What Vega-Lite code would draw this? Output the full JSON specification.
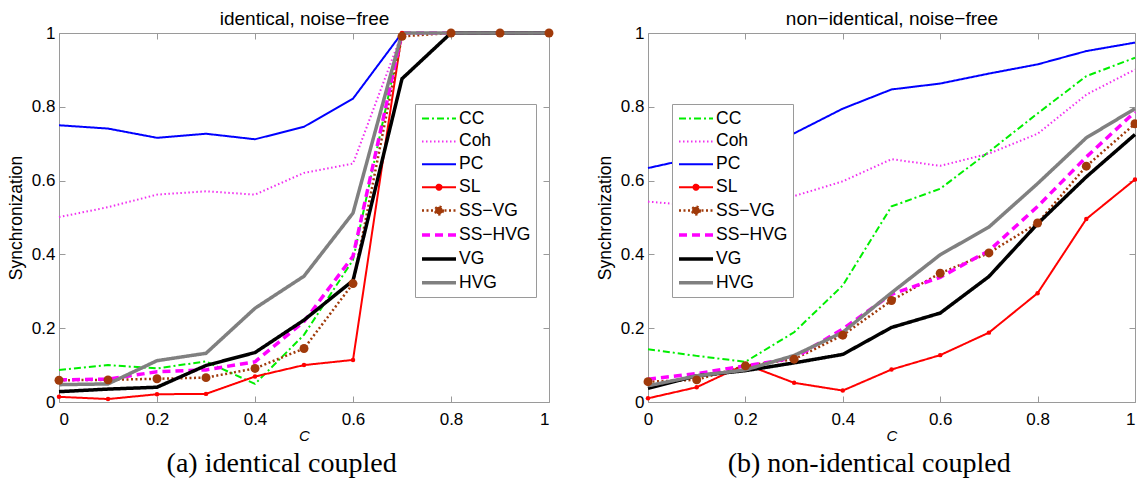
{
  "$schema": "https://vega.github.io/schema/vega-lite/v6.json",
  "padding": {"left": 6, "top": 9, "right": 0, "bottom": 0},
  "spacing": 38,
  "background": "white",
  "datasets": {
    "a": [
      {"c":0,"s":0.087,"m":"CC"},{"c":0.1,"s":0.100,"m":"CC"},{"c":0.2,"s":0.091,"m":"CC"},{"c":0.3,"s":0.110,"m":"CC"},{"c":0.4,"s":0.049,"m":"CC"},{"c":0.5,"s":0.182,"m":"CC"},{"c":0.6,"s":0.385,"m":"CC"},{"c":0.7,"s":1,"m":"CC"},{"c":0.8,"s":1,"m":"CC"},{"c":0.9,"s":1,"m":"CC"},{"c":1,"s":1,"m":"CC"},
      {"c":0,"s":0.501,"m":"Coh"},{"c":0.1,"s":0.528,"m":"Coh"},{"c":0.2,"s":0.562,"m":"Coh"},{"c":0.3,"s":0.571,"m":"Coh"},{"c":0.4,"s":0.562,"m":"Coh"},{"c":0.5,"s":0.621,"m":"Coh"},{"c":0.6,"s":0.646,"m":"Coh"},{"c":0.7,"s":1,"m":"Coh"},{"c":0.8,"s":1,"m":"Coh"},{"c":0.9,"s":1,"m":"Coh"},{"c":1,"s":1,"m":"Coh"},
      {"c":0,"s":0.750,"m":"PC"},{"c":0.1,"s":0.741,"m":"PC"},{"c":0.2,"s":0.716,"m":"PC"},{"c":0.3,"s":0.727,"m":"PC"},{"c":0.4,"s":0.712,"m":"PC"},{"c":0.5,"s":0.746,"m":"PC"},{"c":0.6,"s":0.822,"m":"PC"},{"c":0.7,"s":1,"m":"PC"},{"c":0.8,"s":1,"m":"PC"},{"c":0.9,"s":1,"m":"PC"},{"c":1,"s":1,"m":"PC"},
      {"c":0,"s":0.014,"m":"SL"},{"c":0.1,"s":0.008,"m":"SL"},{"c":0.2,"s":0.021,"m":"SL"},{"c":0.3,"s":0.022,"m":"SL"},{"c":0.4,"s":0.069,"m":"SL"},{"c":0.5,"s":0.100,"m":"SL"},{"c":0.6,"s":0.114,"m":"SL"},{"c":0.7,"s":1,"m":"SL"},{"c":0.8,"s":1,"m":"SL"},{"c":0.9,"s":1,"m":"SL"},{"c":1,"s":1,"m":"SL"},
      {"c":0,"s":0.059,"m":"SS−VG"},{"c":0.1,"s":0.060,"m":"SS−VG"},{"c":0.2,"s":0.063,"m":"SS−VG"},{"c":0.3,"s":0.066,"m":"SS−VG"},{"c":0.4,"s":0.091,"m":"SS−VG"},{"c":0.5,"s":0.145,"m":"SS−VG"},{"c":0.6,"s":0.321,"m":"SS−VG"},{"c":0.7,"s":0.991,"m":"SS−VG"},{"c":0.8,"s":1,"m":"SS−VG"},{"c":0.9,"s":1,"m":"SS−VG"},{"c":1,"s":1,"m":"SS−VG"},
      {"c":0,"s":0.060,"m":"SS−HVG"},{"c":0.1,"s":0.062,"m":"SS−HVG"},{"c":0.2,"s":0.082,"m":"SS−HVG"},{"c":0.3,"s":0.087,"m":"SS−HVG"},{"c":0.4,"s":0.109,"m":"SS−HVG"},{"c":0.5,"s":0.218,"m":"SS−HVG"},{"c":0.6,"s":0.395,"m":"SS−HVG"},{"c":0.7,"s":1,"m":"SS−HVG"},{"c":0.8,"s":1,"m":"SS−HVG"},{"c":0.9,"s":1,"m":"SS−HVG"},{"c":1,"s":1,"m":"SS−HVG"},
      {"c":0,"s":0.028,"m":"VG"},{"c":0.1,"s":0.035,"m":"VG"},{"c":0.2,"s":0.040,"m":"VG"},{"c":0.3,"s":0.099,"m":"VG"},{"c":0.4,"s":0.134,"m":"VG"},{"c":0.5,"s":0.222,"m":"VG"},{"c":0.6,"s":0.329,"m":"VG"},{"c":0.7,"s":0.876,"m":"VG"},{"c":0.8,"s":1,"m":"VG"},{"c":0.9,"s":1,"m":"VG"},{"c":1,"s":1,"m":"VG"},
      {"c":0,"s":0.047,"m":"HVG"},{"c":0.1,"s":0.049,"m":"HVG"},{"c":0.2,"s":0.112,"m":"HVG"},{"c":0.3,"s":0.132,"m":"HVG"},{"c":0.4,"s":0.254,"m":"HVG"},{"c":0.5,"s":0.341,"m":"HVG"},{"c":0.6,"s":0.512,"m":"HVG"},{"c":0.7,"s":1,"m":"HVG"},{"c":0.8,"s":1,"m":"HVG"},{"c":0.9,"s":1,"m":"HVG"},{"c":1,"s":1,"m":"HVG"}
    ],
    "b": [
      {"c":0,"s":0.143,"m":"CC"},{"c":0.1,"s":0.125,"m":"CC"},{"c":0.2,"s":0.109,"m":"CC"},{"c":0.3,"s":0.189,"m":"CC"},{"c":0.4,"s":0.316,"m":"CC"},{"c":0.5,"s":0.530,"m":"CC"},{"c":0.6,"s":0.578,"m":"CC"},{"c":0.7,"s":0.678,"m":"CC"},{"c":0.8,"s":0.782,"m":"CC"},{"c":0.9,"s":0.883,"m":"CC"},{"c":1,"s":0.933,"m":"CC"},
      {"c":0,"s":0.543,"m":"Coh"},{"c":0.1,"s":0.532,"m":"Coh"},{"c":0.2,"s":0.545,"m":"Coh"},{"c":0.3,"s":0.558,"m":"Coh"},{"c":0.4,"s":0.598,"m":"Coh"},{"c":0.5,"s":0.658,"m":"Coh"},{"c":0.6,"s":0.640,"m":"Coh"},{"c":0.7,"s":0.673,"m":"Coh"},{"c":0.8,"s":0.727,"m":"Coh"},{"c":0.9,"s":0.833,"m":"Coh"},{"c":1,"s":0.901,"m":"Coh"},
      {"c":0,"s":0.634,"m":"PC"},{"c":0.1,"s":0.663,"m":"PC"},{"c":0.2,"s":0.695,"m":"PC"},{"c":0.3,"s":0.728,"m":"PC"},{"c":0.4,"s":0.795,"m":"PC"},{"c":0.5,"s":0.847,"m":"PC"},{"c":0.6,"s":0.863,"m":"PC"},{"c":0.7,"s":0.890,"m":"PC"},{"c":0.8,"s":0.915,"m":"PC"},{"c":0.9,"s":0.951,"m":"PC"},{"c":1,"s":0.974,"m":"PC"},
      {"c":0,"s":0.010,"m":"SL"},{"c":0.1,"s":0.040,"m":"SL"},{"c":0.2,"s":0.102,"m":"SL"},{"c":0.3,"s":0.052,"m":"SL"},{"c":0.4,"s":0.031,"m":"SL"},{"c":0.5,"s":0.088,"m":"SL"},{"c":0.6,"s":0.127,"m":"SL"},{"c":0.7,"s":0.188,"m":"SL"},{"c":0.8,"s":0.295,"m":"SL"},{"c":0.9,"s":0.496,"m":"SL"},{"c":1,"s":0.603,"m":"SL"},
      {"c":0,"s":0.055,"m":"SS−VG"},{"c":0.1,"s":0.060,"m":"SS−VG"},{"c":0.2,"s":0.098,"m":"SS−VG"},{"c":0.3,"s":0.116,"m":"SS−VG"},{"c":0.4,"s":0.181,"m":"SS−VG"},{"c":0.5,"s":0.275,"m":"SS−VG"},{"c":0.6,"s":0.349,"m":"SS−VG"},{"c":0.7,"s":0.404,"m":"SS−VG"},{"c":0.8,"s":0.485,"m":"SS−VG"},{"c":0.9,"s":0.639,"m":"SS−VG"},{"c":1,"s":0.754,"m":"SS−VG"},
      {"c":0,"s":0.062,"m":"SS−HVG"},{"c":0.1,"s":0.077,"m":"SS−HVG"},{"c":0.2,"s":0.098,"m":"SS−HVG"},{"c":0.3,"s":0.119,"m":"SS−HVG"},{"c":0.4,"s":0.198,"m":"SS−HVG"},{"c":0.5,"s":0.292,"m":"SS−HVG"},{"c":0.6,"s":0.338,"m":"SS−HVG"},{"c":0.7,"s":0.410,"m":"SS−HVG"},{"c":0.8,"s":0.530,"m":"SS−HVG"},{"c":0.9,"s":0.664,"m":"SS−HVG"},{"c":1,"s":0.786,"m":"SS−HVG"},
      {"c":0,"s":0.037,"m":"VG"},{"c":0.1,"s":0.071,"m":"VG"},{"c":0.2,"s":0.085,"m":"VG"},{"c":0.3,"s":0.106,"m":"VG"},{"c":0.4,"s":0.129,"m":"VG"},{"c":0.5,"s":0.202,"m":"VG"},{"c":0.6,"s":0.241,"m":"VG"},{"c":0.7,"s":0.340,"m":"VG"},{"c":0.8,"s":0.483,"m":"VG"},{"c":0.9,"s":0.610,"m":"VG"},{"c":1,"s":0.725,"m":"VG"},
      {"c":0,"s":0.044,"m":"HVG"},{"c":0.1,"s":0.071,"m":"HVG"},{"c":0.2,"s":0.087,"m":"HVG"},{"c":0.3,"s":0.126,"m":"HVG"},{"c":0.4,"s":0.189,"m":"HVG"},{"c":0.5,"s":0.296,"m":"HVG"},{"c":0.6,"s":0.399,"m":"HVG"},{"c":0.7,"s":0.474,"m":"HVG"},{"c":0.8,"s":0.592,"m":"HVG"},{"c":0.9,"s":0.716,"m":"HVG"},{"c":1,"s":0.795,"m":"HVG"}
    ]
  },
  "resolve": {
    "scale": {"color": "independent", "strokeDash": "independent", "strokeWidth": "independent", "size": "independent"},
    "legend": {"color": "independent", "strokeDash": "independent", "strokeWidth": "independent", "size": "independent"}
  },
  "hconcat": [
    {
      "width": 490,
      "height": 369,
      "data": {"name": "a"},
      "title": {
        "text": "(a) identical coupled",
        "orient": "bottom", "anchor": "middle", "frame": "bounds", "offset": 7,
        "font": "Liberation Serif", "fontSize": 28, "fontWeight": "normal", "color": "#000"
      },
      "layer": [
        {
          "mark": {"type": "line"},
          "encoding": {
            "x": {"field": "c", "type": "quantitative", "scale": {"domain": [0, 1], "nice": false},
                  "axis": {"orient": "bottom", "values": [0, 0.2, 0.4, 0.6, 0.8, 1], "format": "~g", "labelPadding": 15, "title": "C", "titleFontStyle": "italic", "titleFontSize": 15, "titlePadding": 1}},
            "y": {"field": "s", "type": "quantitative", "scale": {"domain": [0, 1], "nice": false},
                  "axis": {"orient": "left", "values": [0, 0.2, 0.4, 0.6, 0.8, 1], "format": "~g", "labelPadding": 10, "title": "Synchronization", "titleFontSize": 17.5, "titlePadding": 6}},
            "color": {"field": "m", "type": "nominal",
                      "scale": {"domain": ["CC", "Coh", "PC", "SL", "SS−VG", "SS−HVG", "VG", "HVG"], "range": ["#00ee00", "#f030f0", "#0000ff", "#ff0000", "#a03a0a", "#ff00ff", "#000000", "#808080"]},
                      "legend": {"orient": "none", "legendX": 356, "legendY": 71, "title": null,
                                 "encode": {"symbols": {"update": {
                                   "shape": {"signal": "datum.value === 'SL' ? 'M-1,0H3M1.3,0A0.3,0.3,0,1,1,0.7,0A0.3,0.3,0,1,1,1.3,0Z' : (datum.value === 'SS−VG' ? 'M-1,0H3M1.45,0A0.45,0.45,0,1,1,0.55,0A0.45,0.45,0,1,1,1.45,0Z' : 'M-1,0H3')"},
                                   "fill": {"signal": "datum.value === 'SL' ? '#ff0000' : (datum.value === 'SS−VG' ? '#a03a0a' : 'transparent')"}}}}}},
            "strokeDash": {"field": "m", "type": "nominal",
                           "scale": {"domain": ["CC", "Coh", "PC", "SL", "SS−VG", "SS−HVG", "VG", "HVG"], "range": [[7, 3, 2, 3], [1.5, 2.5], [1, 0], [1, 0], [2, 2.5], [8, 5], [1, 0], [1, 0]]},
                           "legend": {"orient": "none", "legendX": 356, "legendY": 71, "title": null}},
            "strokeWidth": {"field": "m", "type": "nominal",
                            "scale": {"type": "ordinal", "domain": ["CC", "Coh", "PC", "SL", "SS−VG", "SS−HVG", "VG", "HVG"], "range": [2, 2, 2, 2, 2.5, 3.5, 3.5, 3.5]},
                            "legend": {"orient": "none", "legendX": 356, "legendY": 71, "title": null}}
          }
        },
        {
          "transform": [{"filter": "datum.m === 'SL' || datum.m === 'SS−VG'"}],
          "mark": {"type": "point", "filled": true, "opacity": 1},
          "encoding": {
            "x": {"field": "c", "type": "quantitative", "scale": {"domain": [0, 1], "nice": false}, "axis": null},
            "y": {"field": "s", "type": "quantitative", "scale": {"domain": [0, 1], "nice": false}, "axis": null},
            "color": {"field": "m", "type": "nominal", "scale": {"domain": ["CC", "Coh", "PC", "SL", "SS−VG", "SS−HVG", "VG", "HVG"], "range": ["#00ee00", "#f030f0", "#0000ff", "#ff0000", "#a03a0a", "#ff00ff", "#000000", "#808080"]}, "legend": null},
            "size": {"field": "m", "type": "nominal", "scale": {"type": "ordinal", "domain": ["SL", "SS−VG"], "range": [20, 80]}, "legend": null}
          }
        },
        {
          "mark": {"type": "line", "opacity": 0},
          "encoding": {
            "x": {"field": "c", "type": "quantitative", "scale": {"domain": [0, 1], "nice": false},
                  "axis": {"orient": "top", "values": [0, 0.2, 0.4, 0.6, 0.8, 1], "labels": false, "title": "identical, noise−free", "titleFontSize": 19, "titlePadding": 4}},
            "y": {"field": "s", "type": "quantitative", "scale": {"domain": [0, 1], "nice": false},
                  "axis": {"orient": "right", "values": [0, 0.2, 0.4, 0.6, 0.8, 1], "labels": false, "title": null}}
          }
        }
      ],
      "resolve": {"axis": {"x": "independent", "y": "independent"}}
    },
    {
      "width": 487,
      "height": 369,
      "data": {"name": "b"},
      "title": {
        "text": "(b) non-identical coupled",
        "orient": "bottom", "anchor": "middle", "frame": "bounds", "offset": 7,
        "font": "Liberation Serif", "fontSize": 28, "fontWeight": "normal", "color": "#000"
      },
      "layer": [
        {
          "mark": {"type": "line"},
          "encoding": {
            "x": {"field": "c", "type": "quantitative", "scale": {"domain": [0, 1], "nice": false},
                  "axis": {"orient": "bottom", "values": [0, 0.2, 0.4, 0.6, 0.8, 1], "format": "~g", "labelPadding": 15, "title": "C", "titleFontStyle": "italic", "titleFontSize": 15, "titlePadding": 1,
                           "labelAlign": {"condition": {"test": "datum.value === 1", "value": "right"}, "value": "center"}}},
            "y": {"field": "s", "type": "quantitative", "scale": {"domain": [0, 1], "nice": false},
                  "axis": {"orient": "left", "values": [0, 0.2, 0.4, 0.6, 0.8, 1], "format": "~g", "labelPadding": 10, "title": "Synchronization", "titleFontSize": 17.5, "titlePadding": 6}},
            "color": {"field": "m", "type": "nominal",
                      "scale": {"domain": ["CC", "Coh", "PC", "SL", "SS−VG", "SS−HVG", "VG", "HVG"], "range": ["#00ee00", "#f030f0", "#0000ff", "#ff0000", "#a03a0a", "#ff00ff", "#000000", "#808080"]},
                      "legend": {"orient": "none", "legendX": 24, "legendY": 71, "title": null,
                                 "encode": {"symbols": {"update": {
                                   "shape": {"signal": "datum.value === 'SL' ? 'M-1,0H3M1.3,0A0.3,0.3,0,1,1,0.7,0A0.3,0.3,0,1,1,1.3,0Z' : (datum.value === 'SS−VG' ? 'M-1,0H3M1.45,0A0.45,0.45,0,1,1,0.55,0A0.45,0.45,0,1,1,1.45,0Z' : 'M-1,0H3')"},
                                   "fill": {"signal": "datum.value === 'SL' ? '#ff0000' : (datum.value === 'SS−VG' ? '#a03a0a' : 'transparent')"}}}}}},
            "strokeDash": {"field": "m", "type": "nominal",
                           "scale": {"domain": ["CC", "Coh", "PC", "SL", "SS−VG", "SS−HVG", "VG", "HVG"], "range": [[7, 3, 2, 3], [1.5, 2.5], [1, 0], [1, 0], [2, 2.5], [8, 5], [1, 0], [1, 0]]},
                           "legend": {"orient": "none", "legendX": 24, "legendY": 71, "title": null}},
            "strokeWidth": {"field": "m", "type": "nominal",
                            "scale": {"type": "ordinal", "domain": ["CC", "Coh", "PC", "SL", "SS−VG", "SS−HVG", "VG", "HVG"], "range": [2, 2, 2, 2, 2.5, 3.5, 3.5, 3.5]},
                            "legend": {"orient": "none", "legendX": 24, "legendY": 71, "title": null}}
          }
        },
        {
          "transform": [{"filter": "datum.m === 'SL' || datum.m === 'SS−VG'"}],
          "mark": {"type": "point", "filled": true, "opacity": 1},
          "encoding": {
            "x": {"field": "c", "type": "quantitative", "scale": {"domain": [0, 1], "nice": false}, "axis": null},
            "y": {"field": "s", "type": "quantitative", "scale": {"domain": [0, 1], "nice": false}, "axis": null},
            "color": {"field": "m", "type": "nominal", "scale": {"domain": ["CC", "Coh", "PC", "SL", "SS−VG", "SS−HVG", "VG", "HVG"], "range": ["#00ee00", "#f030f0", "#0000ff", "#ff0000", "#a03a0a", "#ff00ff", "#000000", "#808080"]}, "legend": null},
            "size": {"field": "m", "type": "nominal", "scale": {"type": "ordinal", "domain": ["SL", "SS−VG"], "range": [20, 80]}, "legend": null}
          }
        },
        {
          "mark": {"type": "line", "opacity": 0},
          "encoding": {
            "x": {"field": "c", "type": "quantitative", "scale": {"domain": [0, 1], "nice": false},
                  "axis": {"orient": "top", "values": [0, 0.2, 0.4, 0.6, 0.8, 1], "labels": false, "title": "non−identical, noise−free", "titleFontSize": 19, "titlePadding": 4}},
            "y": {"field": "s", "type": "quantitative", "scale": {"domain": [0, 1], "nice": false},
                  "axis": {"orient": "right", "values": [0, 0.2, 0.4, 0.6, 0.8, 1], "labels": false, "title": null}}
          }
        }
      ],
      "resolve": {"axis": {"x": "independent", "y": "independent"}}
    }
  ],
  "config": {
    "font": "Liberation Sans",
    "view": {"stroke": "#9a9a9a", "strokeWidth": 1},
    "axis": {
      "domain": false, "grid": false, "tickSize": -6, "tickColor": "#9a9a9a", "tickWidth": 1,
      "labelFont": "Liberation Sans", "labelFontSize": 17, "labelColor": "#000",
      "titleFont": "Liberation Sans", "titleFontWeight": "normal", "titleColor": "#000"
    },
    "legend": {
      "padding": 5, "rowPadding": 4.9, "labelFont": "Liberation Sans", "labelFontSize": 17.5, "labelColor": "#000",
      "labelLimit": 300, "labelOffset": 18, "symbolSize": 289, "symbolType": "M-1,0H3",
      "fillColor": "#ffffff", "strokeColor": "#9a9a9a", "cornerRadius": 0
    }
  }
}
